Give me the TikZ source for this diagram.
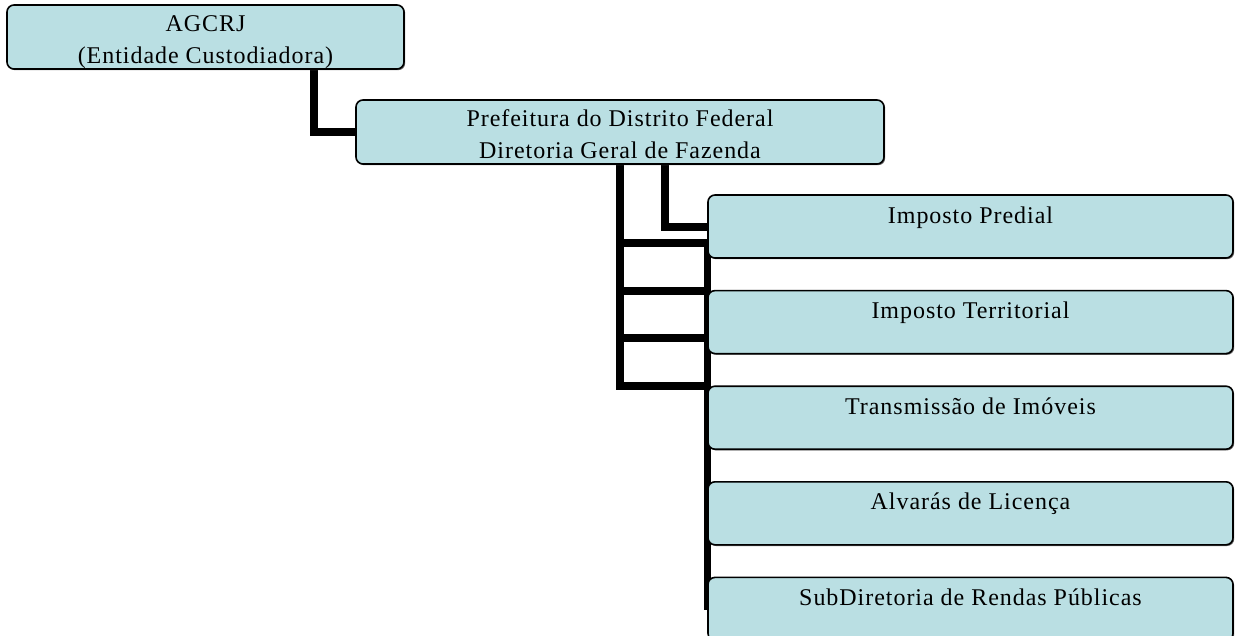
\documentclass[tikz,border=0pt]{standalone}
\usepackage{fontspec}
\setmainfont{Liberation Serif}[LetterSpace=4]
\usepackage{tikz}
\usetikzlibrary{
  positioning,
  backgrounds,
  shadows
}
\definecolor{agBox}{HTML}{BADFE3}
\tikzset{
  agnode/.style={
    draw, line width=1.6pt, rounded corners=7pt, fill=agBox, align=center,
    font=\fontsize{24}{31.5}\selectfont, inner sep=0pt,
    drop shadow={shadow xshift=1.2pt, shadow yshift=-1.2pt, fill=black!60, opacity=1}
  },
  headbox/.style={agnode, minimum height=64pt, text height=57pt, text depth=5pt},
  unitbox/.style={agnode, minimum width=525pt, minimum height=63pt, text height=16pt, text depth=23pt},
  link/.style={line width=8pt},
  rail/.style={line width=7pt}
}

\begin{document}
\begin{tikzpicture}[x=1pt, y=-1pt, node distance=31pt]
  \useasboundingbox (0,0) rectangle (1235,635);
  \node[headbox, minimum width=397pt] (agcrj) at (205.5,37) {AGCRJ\\(Entidade Custodiadora)};
  \node[headbox, minimum width=528pt] (pdf) at (620,132) {Prefeitura do Distrito Federal\\Diretoria Geral de Fazenda};
  \node[unitbox] (predial) at (970.5,226.5) {Imposto Predial};
  \node[unitbox, below=of predial] (territorial) {Imposto Territorial};
  \node[unitbox, below=of territorial] (transmissao) {Transmissão de Imóveis};
  \node[unitbox, below=of transmissao] (alvaras) {Alvarás de Licença};
  \node[unitbox, below=of alvaras] (subdir) {SubDiretoria de Rendas Públicas};
  \begin{scope}[on background layer]
    \draw[link] ([xshift=108.5pt]agcrj.south) |- (pdf.west);
    \draw[link] ([xshift=45pt]pdf.south) |- (predial.west);
    \draw[link] (pdf.south) -- (pdf.south |- 0,390);
    \foreach \y in {243,291,338,386}{\draw[link] (pdf.south |- 0,\y) -- (predial.west |- 0,\y);}
    \draw[rail] (predial.west |- 0,239) -- (subdir.west |- 0,610);
  \end{scope}
\end{tikzpicture}
\end{document}
